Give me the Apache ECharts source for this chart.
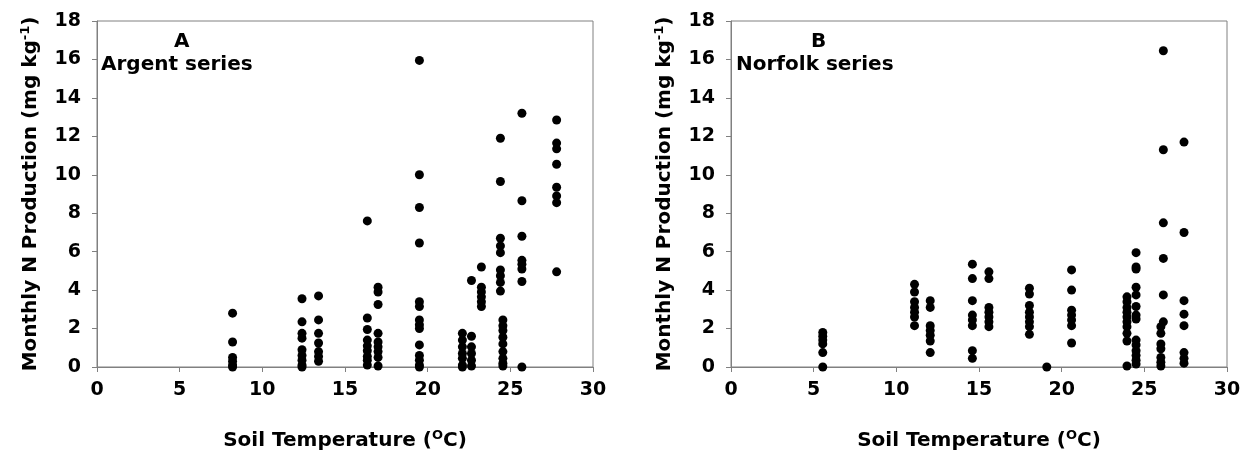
<!DOCTYPE html>
<html>
<head>
<meta charset="utf-8">
<script src="https://cdn.jsdelivr.net/npm/echarts@6/dist/echarts.min.js"></script>
<style>html,body{margin:0;padding:0;background:#fff;}#c{width:1251px;height:462px;}</style>
</head>
<body>
<div id="c"></div>
<script>
// Panel A (Argent series): soil temperature groups and N production values
const tempsA = [8.2, 12.4, 13.4, 16.35, 17.0, 19.5, 22.1, 22.65, 23.25, 24.4, 24.55, 25.7, 27.8];
const valuesA = [
  [2.8, 1.3, 0.5, 0.3, 0.1, 0.0],
  [3.55, 2.35, 1.75, 1.5, 0.9, 0.6, 0.35, 0.1, 0.0],
  [3.7, 2.45, 1.75, 1.25, 0.8, 0.55, 0.3],
  [7.6, 2.55, 1.95, 1.4, 1.1, 0.85, 0.55, 0.35, 0.1],
  [4.15, 3.9, 3.25, 1.75, 1.3, 1.05, 0.8, 0.5, 0.05],
  [15.95, 10.0, 8.3, 6.45, 3.4, 3.15, 2.45, 2.2, 2.0, 1.15, 0.6, 0.35, 0.1, 0.0],
  [1.75, 1.4, 1.05, 0.7, 0.45, 0.1, 0.0],
  [4.5, 1.6, 1.05, 0.7, 0.35, 0.05],
  [5.2, 4.15, 3.9, 3.65, 3.4, 3.15],
  [11.9, 9.65, 6.7, 6.3, 5.95, 5.05, 4.75, 4.4, 3.95],
  [2.45, 2.15, 1.9, 1.55, 1.2, 0.8, 0.45, 0.2, 0.05],
  [13.2, 8.65, 6.8, 5.55, 5.35, 5.1, 4.45, 0.0],
  [12.85, 11.65, 11.35, 10.55, 9.35, 8.9, 8.55, 4.95]
];
// Panel B (Norfolk series)
const tempsB = [5.55, 11.1, 12.05, 14.6, 15.6, 18.05, 19.1, 20.6, 23.95, 24.5, 26.15, 26.0, 27.4];
const valuesB = [
  [1.8, 1.6, 1.4, 1.2, 0.75, 0.0],
  [4.3, 3.9, 3.4, 3.1, 2.85, 2.6, 2.15],
  [3.45, 3.1, 2.15, 1.9, 1.65, 1.35, 0.75],
  [5.35, 4.6, 3.45, 2.7, 2.45, 2.15, 0.85, 0.45],
  [4.95, 4.6, 3.1, 2.85, 2.6, 2.35, 2.1],
  [4.1, 3.8, 3.2, 2.85, 2.6, 2.35, 2.1, 1.7],
  [0.0],
  [5.05, 4.0, 2.95, 2.7, 2.45, 2.15, 1.25],
  [3.65, 3.4, 3.1, 2.85, 2.6, 2.35, 2.1, 1.75, 1.35, 0.05],
  [5.95, 5.2, 5.1, 4.15, 3.75, 3.15, 2.7, 2.5, 1.4, 1.15, 0.85, 0.6, 0.35, 0.15],
  [16.45, 11.3, 7.5, 5.65, 3.75, 2.35],
  [2.1, 1.75, 1.2, 0.95, 0.5, 0.25, 0.05],
  [11.7, 7.0, 3.45, 2.75, 2.15, 0.75, 0.45, 0.2]
];
const panelLetters = ['A', 'B'];
const panelNames = ['Argent series', 'Norfolk series'];
const xTitle = 'Soil Temperature (';
const yTitle = 'Monthly N Production (mg kg';

function pairs(temps, vals) {
  const out = [];
  temps.forEach((t, i) => vals[i].forEach(v => out.push([t, v])));
  return out;
}

const FONT = 'DejaVu Sans';
const gray = '#808080';
const grids = [
  {left: 97, top: 21, width: 496, height: 346},
  {left: 731, top: 21, width: 496, height: 346}
];

function xAxis(i) {
  return {
    gridIndex: i, type: 'value', min: 0, max: 30, interval: 5,
    axisLine: {show: true, lineStyle: {color: gray, width: 1}},
    axisTick: {show: true, length: 5, lineStyle: {color: gray}},
    splitLine: {show: false},
    axisLabel: {fontFamily: FONT, fontWeight: 'bold', fontSize: 19, color: '#000', margin: 14},
    name: '{t|' + xTitle + '}{s|O}{t|C)}',
    nameLocation: 'middle', nameGap: 62,
    nameTextStyle: {
      rich: {
        t: {fontFamily: FONT, fontWeight: 'bold', fontSize: 20, color: '#000'},
        s: {fontFamily: FONT, fontWeight: 'bold', fontSize: 13, color: '#000', padding: [0, 0, 10, 0]}
      }
    }
  };
}
function yAxis(i) {
  return {
    gridIndex: i, type: 'value', min: 0, max: 18, interval: 2,
    axisLine: {show: true, lineStyle: {color: gray, width: 1}},
    axisTick: {show: true, length: 5, lineStyle: {color: gray}},
    splitLine: {show: false},
    axisLabel: {fontFamily: FONT, fontWeight: 'bold', fontSize: 19, color: '#000', margin: 16},
    name: '{t|' + yTitle + '}{s|-1}{t|)}',
    nameLocation: 'middle', nameGap: 55, nameRotate: 90,
    nameTextStyle: {
      rich: {
        t: {fontFamily: FONT, fontWeight: 'bold', fontSize: 20, color: '#000'},
        s: {fontFamily: FONT, fontWeight: 'bold', fontSize: 13, color: '#000', padding: [0, 0, 10, 0]}
      }
    }
  };
}

const chart = echarts.init(document.getElementById('c'), null, {renderer: 'canvas'});
chart.setOption({
  animation: false,
  backgroundColor: '#fff',
  title: [
    {text: panelLetters[0], left: 174, top: 32, textStyle: {fontFamily: FONT, fontWeight: 'bold', fontSize: 20, color: '#000'}, padding: 0},
    {text: panelNames[0], left: 101, top: 55, textStyle: {fontFamily: FONT, fontWeight: 'bold', fontSize: 20, color: '#000'}, padding: 0},
    {text: panelLetters[1], left: 811, top: 32, textStyle: {fontFamily: FONT, fontWeight: 'bold', fontSize: 20, color: '#000'}, padding: 0},
    {text: panelNames[1], left: 736, top: 55, textStyle: {fontFamily: FONT, fontWeight: 'bold', fontSize: 20, color: '#000'}, padding: 0}
  ],
  grid: grids.map(g => Object.assign({show: true, borderColor: gray, borderWidth: 1, backgroundColor: 'transparent'}, g)),
  xAxis: [xAxis(0), xAxis(1)],
  yAxis: [yAxis(0), yAxis(1)],
  series: [
    {type: 'scatter', xAxisIndex: 0, yAxisIndex: 0, symbol: 'circle', symbolSize: 9, clip: false,
     itemStyle: {color: '#000', opacity: 1}, data: pairs(tempsA, valuesA)},
    {type: 'scatter', xAxisIndex: 1, yAxisIndex: 1, symbol: 'circle', symbolSize: 9, clip: false,
     itemStyle: {color: '#000', opacity: 1}, data: pairs(tempsB, valuesB)}
  ]
});
</script>
</body>
</html>
